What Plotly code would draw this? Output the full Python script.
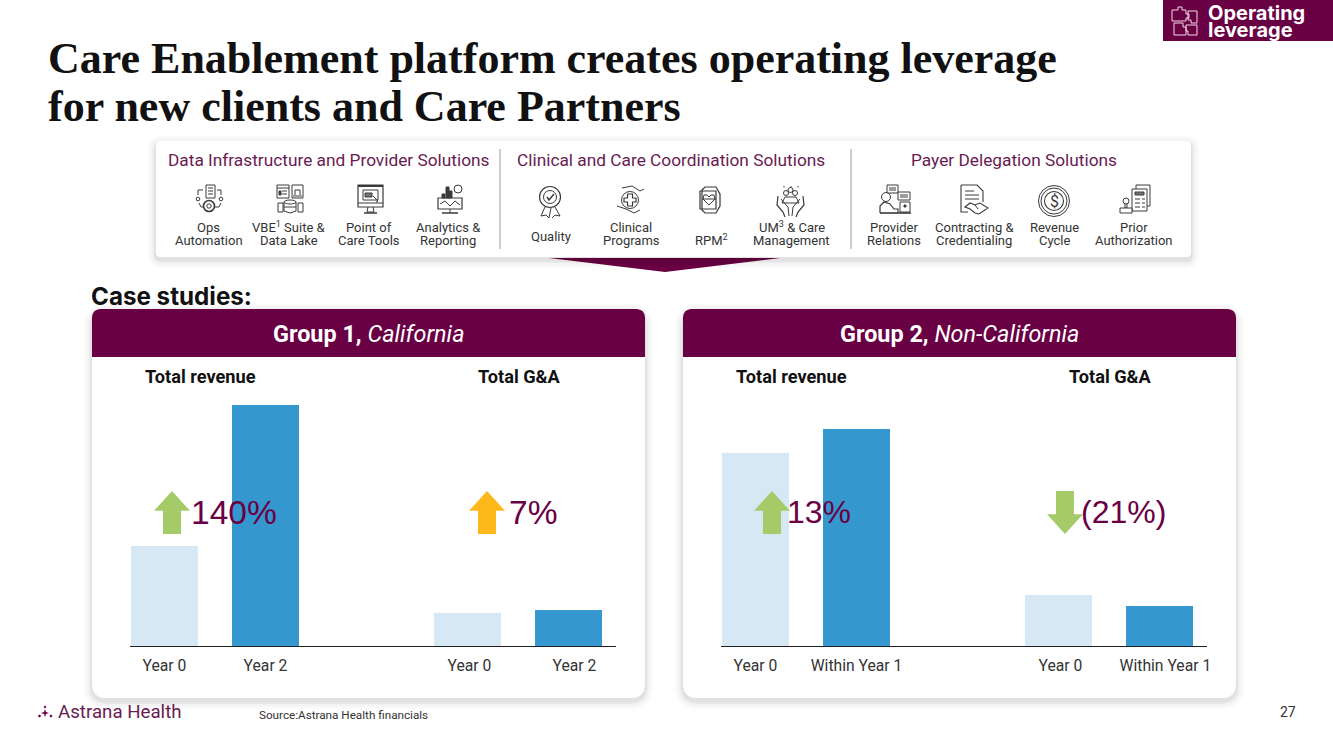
import plotly.graph_objects as go

W, H = 1333, 749
PLUM = "#6A0044"
PLUM_TEXT = "#6A1B52"
LIGHT = "#D6E8F4"
BLUE = "#3498CE"
INK = "#111111"
GREY = "#333333"
FONT = "Roboto"

# chart data (bar heights in an arbitrary index)
# nbsp prefixes keep repeated labels unique and nudge them right like the original
g1_categories = ["Year 0", "Year 2", " ", "\u00a0Year 0", "\u00a0\u00a0\u00a0Year 2"]
g1_values = [100, 241, None, 33, 36]
g2_categories = ["Year 0", "Within Year 1", " ", "\u00a0Year 0", "\u00a0\u00a0\u00a0Within Year 1"]
g2_values = [193, 217, None, 51, 40]
bar_colors = [LIGHT, BLUE, LIGHT, LIGHT, BLUE]

g1_changes = ["140%", "7%"]
g2_changes = ["13%", "(21%)"]

section_titles = ["Data Infrastructure and Provider Solutions",
                  "Clinical and Care Coordination Solutions",
                  "Payer Delegation Solutions"]
capabilities = [["Ops", "Automation"], ["VBE<sup>1</sup> Suite &", "Data Lake"], ["Point of", "Care Tools"],
                ["Analytics &", "Reporting"], ["Quality"], ["Clinical", "Programs"], ["RPM<sup>2</sup>"],
                ["UM<sup>3</sup> & Care", "Management"], ["Provider", "Relations"],
                ["Contracting &", "Credentialing"], ["Revenue", "Cycle"], ["Prior", "Authorization"]]
capability_x = [208.5, 289, 369, 448, 551, 631, 711, 791.5, 894, 974, 1054, 1134]


def px(x):
    return x / W


def py(y):
    return 1 - y / H


shapes = []
annotations = []


def path(points, close=True, fill=None, line=None, width=1, layer="below", opacity=1):
    d = "M" + " L".join(f"{px(x):.5f},{py(y):.5f}" for x, y in points) + (" Z" if close else "")
    shapes.append(dict(type="path", path=d, xref="paper", yref="paper", fillcolor=fill or "rgba(0,0,0,0)",
                       line=dict(color=line or "rgba(0,0,0,0)", width=width), layer=layer, opacity=opacity))


def round_rect(x0, y0, x1, y1, r_top=0, r_bot=0, **kw):
    def corner(cx, cy, r, a):
        # quarter circle as a few straight pieces
        steps = [(0, 1), (0.38, 0.92), (0.71, 0.71), (0.92, 0.38), (1, 0)]
        sx, sy = a
        return [(cx + sx * p * r, cy + sy * q * r) for p, q in steps]
    pts = []
    pts += corner(x0 + r_top, y0 + r_top, r_top, (-1, -1))[::-1]
    pts += corner(x1 - r_top, y0 + r_top, r_top, (1, -1))
    pts += corner(x1 - r_bot, y1 - r_bot, r_bot, (1, 1))[::-1]
    pts += corner(x0 + r_bot, y1 - r_bot, r_bot, (-1, 1))
    path(pts, **kw)


def card(x0, y0, x1, y1, r):
    for grow, alpha in [(9, 0.012), (7, 0.016), (5, 0.02), (3, 0.03), (1.5, 0.04)]:
        round_rect(x0 - grow, y0 - grow + 3, x1 + grow, y1 + grow + 3, r + grow, r + grow,
                   fill=f"rgba(0,0,0,{alpha})")
    round_rect(x0, y0, x1, y1, r, r, fill="white")


def text(x, y, s, size=14, color=GREY, anchor="center", family=FONT):
    annotations.append(dict(x=px(x), y=py(y), xref="paper", yref="paper", text=s, showarrow=False,
                            xanchor=anchor, yanchor="middle", align=anchor,
                            font=dict(size=size, color=color, family=family),
                            borderpad=0, borderwidth=0))


IC = "#3A3A3A"


def ln(x0, y0, x1, y1, color=IC, width=1):
    shapes.append(dict(type="line", x0=px(x0), y0=py(y0), x1=px(x1), y1=py(y1), xref="paper", yref="paper",
                       line=dict(color=color, width=width), layer="above"))


def box(x0, y0, x1, y1, color=IC, width=1, fill=None):
    shapes.append(dict(type="rect", x0=px(x0), y0=py(y0), x1=px(x1), y1=py(y1), xref="paper", yref="paper",
                       line=dict(color=color, width=width), fillcolor=fill or "rgba(0,0,0,0)", layer="above"))


def ring(cx, cy, r, color=IC, width=1, fill=None, ry=None):
    ry = ry or r
    shapes.append(dict(type="circle", x0=px(cx - r), y0=py(cy - ry), x1=px(cx + r), y1=py(cy + ry),
                       xref="paper", yref="paper", line=dict(color=color, width=width),
                       fillcolor=fill or "rgba(0,0,0,0)", layer="above"))


def stroke(points, color=IC, width=1, close=False, fill=None):
    path(points, close=close, line=color, width=width, layer="above", fill=fill)


def arrow(cx, top, bottom, half, shaft, color):
    neck = top + half * 1.1
    path([(cx, top), (cx + half, neck), (cx + shaft, neck), (cx + shaft, bottom), (cx - shaft, bottom),
          (cx - shaft, neck), (cx - half, neck)], fill=color, layer="above")


def arrow_down(cx, top, bottom, half, shaft, color):
    neck = bottom - half * 1.1
    path([(cx, bottom), (cx + half, neck), (cx + shaft, neck), (cx + shaft, top), (cx - shaft, top),
          (cx - shaft, neck), (cx - half, neck)], fill=color, layer="above")


# badge top right
path([(1163, 0), (1333, 0), (1333, 41), (1163, 41)], fill=PLUM)
PW = "#F3DCE8"
stroke([(1172, 10), (1178, 10), (1178, 7), (1182, 7), (1182, 10), (1186, 10), (1186, 14), (1189, 14), (1189, 18),
        (1186, 18), (1186, 21), (1172, 21)], color=PW, close=True)
stroke([(1188, 11), (1197, 11), (1197, 23), (1191, 23), (1191, 20), (1188, 20)], color=PW, close=True)
stroke([(1174, 23), (1183, 23), (1183, 27), (1186, 27), (1186, 35), (1174, 35)], color=PW, close=True)
stroke([(1186, 25), (1197, 25), (1197, 35), (1188, 35), (1188, 31), (1186, 31)], color=PW, close=True)
text(1208, 13, "<b>Operating</b>", size=20, color="white", anchor="left", family="Inter")
text(1208, 30, "<b>leverage</b>", size=20, color="white", anchor="left", family="Inter")

# title
text(48, 58, "<b>Care Enablement platform creates operating leverage</b>", size=44, color=INK, anchor="left",
     family="Liberation Serif")
text(48, 106, "<b>for new clients and Care Partners</b>", size=44, color=INK, anchor="left",
     family="Liberation Serif")

# capability strip
path([(549, 258), (780, 258), (665, 272)], fill=PLUM)
card(156, 141, 1191, 257, 4)
ln(500, 149, 500, 249, color="#BDBDBD", width=1.5)
ln(851, 149, 851, 249, color="#BDBDBD", width=1.5)
for x, s in zip([329, 671, 1014], section_titles):
    text(x, 160, s, size=17.3, color=PLUM_TEXT)
for x, rows in zip(capability_x, capabilities):
    if len(rows) == 1:
        text(x, 236 if x < 600 else 240, rows[0], size=13, color=GREY)
    else:
        text(x, 227, rows[0], size=13, color=GREY)
        text(x, 241, rows[1], size=13, color=GREY)

# icons, simplified line drawings
# ops automation
box(206, 185, 215, 198)
for y in [188, 191, 194]:
    ln(208, y, 213, y)
ring(209, 206, 5.5, width=1.6)
ring(209, 206, 2.2)
ring(198, 199, 1.8)
ring(221, 199, 1.8)
stroke([(198, 195), (198, 190), (203, 190)])
stroke([(217, 190), (221, 190), (221, 195)])
stroke([(199, 203), (201, 207), (203, 207)])
stroke([(215, 207), (219, 207), (221, 203)])
# vbe suite
box(277, 185, 289, 198)
box(292, 185, 303, 198)
ln(277, 188, 289, 188)
ln(282, 191, 287, 191)
ln(282, 194, 287, 194)
box(279, 191, 281, 195, fill=IC)
stroke([(295, 195), (295, 190), (300, 190), (300, 195)])
ln(293, 196, 302, 196)
ring(290, 202, 6, ry=2)
stroke([(284, 202), (284, 211), (290, 213), (296, 211), (296, 202)])
ln(284, 207, 296, 207)
box(278, 203, 283, 212)
box(298, 203, 303, 212)
# point of care
box(358, 185, 383, 207, width=1.2)
ln(358, 186, 383, 186, width=2)
ln(358, 203, 383, 203)
box(363, 190, 378, 200)
box(365, 193, 372, 197, fill="#777777")
stroke([(373, 196), (378, 201), (376, 202)])
stroke([(368, 207), (367, 212), (374, 212), (373, 207)])
ln(364, 213, 377, 213, width=1.5)
# analytics
box(438, 198, 462, 209, width=1.2)
stroke([(440, 204), (445, 201), (450, 206), (455, 201), (460, 205)])
for x0, y0 in [(442, 194), (446, 187), (449, 191)]:
    box(x0, y0, x0 + 3, 198, fill=IC)
ring(458, 189, 4)
ln(450, 209, 450, 213)
ln(442, 213, 458, 213, width=1.5)
# quality
ring(550, 197, 10.5, width=1.2)
ring(550, 197, 6.5)
stroke([(547, 197), (549, 200), (554, 194)], width=1.4)
stroke([(545, 207), (541, 216), (546, 215), (549, 218), (551, 208)])
stroke([(555, 207), (560, 216), (555, 215), (552, 218)])
# clinical programs
ring(630, 200, 8.5)
stroke([(627.5, 194), (632.5, 194), (632.5, 198), (636, 198), (636, 202), (632.5, 202), (632.5, 206), (627.5, 206),
        (627.5, 202), (624, 202), (624, 198), (627.5, 198)], width=1.2, close=True, fill="white")
stroke([(622, 188), (632, 186), (640, 191), (644, 189)])
stroke([(617, 206), (626, 209), (634, 213), (640, 210)])
# rpm watch
stroke([(702, 190), (705, 187), (716, 187), (720, 194), (720, 206), (716, 213), (705, 213), (702, 210)], width=1.2,
       close=True)
box(700, 191, 716, 209, width=1.2)
stroke([(709, 205), (703, 199), (704, 195), (707, 195), (709, 197), (711, 195), (714, 195), (715, 199)], width=1,
       close=True)
ln(702, 199, 716, 199)
# um & care
ring(786, 193, 2.5)
ring(795, 193, 2.5)
ring(790.5, 190, 2.5)
stroke([(782, 203), (785, 197), (796, 197), (799, 203), (782, 203)])
for x in [784, 791, 798]:
    ln(x, 186, x, 187.5)
stroke([(778, 196), (777, 205), (783, 212), (785, 217)], width=1.2)
stroke([(803, 196), (804, 205), (798, 212), (796, 217)], width=1.2)
stroke([(781, 199), (788, 207), (789, 216)])
stroke([(800, 199), (793, 207), (792, 216)])
# provider relations
ring(886, 197, 4.5)
box(887, 185, 898, 193, fill="white")
ln(889, 188, 896, 188)
ln(889, 190, 896, 190)
box(898, 192, 910, 200, fill="white")
ln(900, 195, 908, 195)
ln(900, 197, 908, 197)
stroke([(880, 213), (880, 206), (884, 202), (890, 204), (894, 209), (898, 209), (898, 213)], width=1.2)
box(900, 202, 910, 212)
box(904, 205, 906, 207, fill=IC)
ln(880, 213, 911, 213, width=1.6)
# contracting
stroke([(961, 185), (977, 185), (983, 191), (983, 202)], width=1.1)
stroke([(961, 185), (961, 212), (968, 212)], width=1.1)
ln(965, 191, 974, 191)
ln(965, 195, 979, 195)
ln(965, 199, 979, 199)
stroke([(965, 207), (970, 203), (975, 205), (980, 203), (988, 208), (979, 214), (975, 213), (970, 209)], width=1.1,
       close=True, fill="white")
ln(975, 205, 978, 209)
# revenue cycle
ring(1054, 201, 15.5, width=1)
ring(1054, 201, 13, width=1)
ring(1054, 201, 9.5, width=1.1)
text(1054, 201, "$", size=16, color=IC)
# prior authorization
box(1136, 185, 1150, 206)
box(1132, 189, 1147, 211, fill="white")
box(1135, 192, 1144, 195, fill="#777777")
for y in [199, 203, 207]:
    ln(1135, y, 1140, y)
    ln(1142, y, 1145, y)
ring(1126, 201, 3, fill="white")
stroke([(1125, 204), (1125, 208), (1127, 208), (1127, 204)])
box(1120, 208, 1132, 213, fill="white")

# case studies
text(91, 296, "<b>Case studies:</b>", size=24.2, color=INK, anchor="left", family="Inter")
for x0, x1, head in [(92, 645, "<b>Group 1,</b> <i>California</i>"), (683, 1236, "<b>Group 2,</b> <i>Non-California</i>")]:
    card(x0, 309, x1, 698, 12)
    round_rect(x0, 309, x1, 357, 8, 0, fill=PLUM)
    text((x0 + x1) / 2, 334, head, size=23.4, color="white")

for off in [0, 591]:
    text(200.5 + off, 376.5, "<b>Total revenue</b>", size=18.2, color=INK)
    text(519.5 + off, 376.5, "<b>Total G&A</b>", size=18.2, color=INK)

# change callouts
arrow(172, 491, 534, 18, 9, "#A5CB69")
arrow(487, 491, 534, 18, 9, "#FFB81C")
arrow(772, 491, 534, 18, 9, "#A5CB69")
arrow_down(1065, 491, 534, 18, 9, "#A5CB69")
for x, s in zip([191, 509], g1_changes):
    text(x, 512, s, size=33.5, color=PLUM, anchor="left", family="Liberation Sans")
for x, s in zip([787, 1081], g2_changes):
    text(x, 512, s, size=32, color=PLUM, anchor="left", family="Liberation Sans")

# footer
ring(39.5, 716, 0.9, PLUM, fill=PLUM)
ring(51, 716, 0.9, PLUM, fill=PLUM)
ring(45, 707, 0.8, PLUM, fill=PLUM)
path([(45, 709), (46, 712), (49, 713), (46, 714), (45, 717), (44, 714), (41, 713), (44, 712)], fill=PLUM)
text(58, 712, "Astrana Health", size=18.7, color=PLUM_TEXT, anchor="left")
text(259, 714.5, "Source:Astrana Health financials", size=11.7, color=GREY, anchor="left")
text(1288, 712, "27", size=14, color=GREY)

fig = go.Figure()
fig.add_trace(go.Bar(x=g1_categories, y=g1_values, marker=dict(color=bar_colors, line=dict(width=0)),
                     width=0.663, xaxis="x", yaxis="y", name="Group 1"))
fig.add_trace(go.Bar(x=g2_categories, y=g2_values, marker=dict(color=bar_colors, line=dict(width=0)),
                     width=0.663, xaxis="x2", yaxis="y2", name="Group 2"))

x_style = dict(type="category", range=[-0.3465, 4.465], showgrid=False, zeroline=False, showline=True,
               linecolor="#222222", linewidth=1, ticks="", tickfont=dict(family=FONT, size=15.7, color=GREY),
               ticklabelstandoff=5, tickangle=0, fixedrange=True)
y_style = dict(range=[0, 250], visible=False, fixedrange=True)

fig.update_layout(
    width=W, height=H, margin=dict(l=0, r=0, t=0, b=0, autoexpand=False), autosize=False,
    paper_bgcolor="white", plot_bgcolor="rgba(0,0,0,0)", showlegend=False,
    xaxis=dict(domain=[px(129.5), px(615.5)], anchor="y", categoryorder="array", categoryarray=g1_categories, **x_style),
    xaxis2=dict(domain=[px(720.5), px(1206.5)], anchor="y2", categoryorder="array", categoryarray=g2_categories, **x_style),
    yaxis=dict(domain=[py(646), py(396)], anchor="x", **y_style),
    yaxis2=dict(domain=[py(646), py(396)], anchor="x2", **y_style),
    shapes=shapes, annotations=annotations,
)

fig.write_html("out.html", post_script="document.body.style.margin='0';", config=dict(displayModeBar=False))
